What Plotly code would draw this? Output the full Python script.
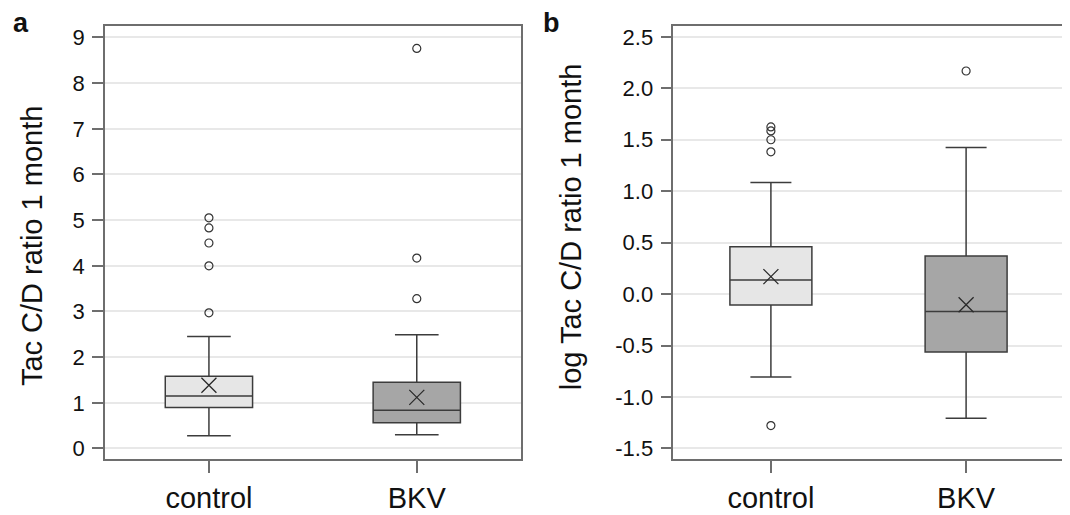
import plotly.graph_objects as go

# ---------------- data ----------------
categories = ["control", "BKV"]
box_fills = ["#e6e6e6", "#a6a6a6"]

# panel a: Tac C/D ratio 1 month
a_lower = [0.28, 0.30]
a_q1 = [0.90, 0.565]
a_median = [1.15, 0.84]
a_q3 = [1.58, 1.45]
a_upper = [2.45, 2.49]
a_mean = [1.385, 1.12]
a_out_control = [2.97, 4.0, 4.5, 4.83, 5.05]
a_out_bkv = [3.28, 4.17, 8.76]
a_ticks = [0, 1, 2, 3, 4, 5, 6, 7, 8, 9]
a_ticktext = ["0", "1", "2", "3", "4", "5", "6", "7", "8", "9"]

# panel b: log Tac C/D ratio 1 month
b_lower = [-0.805, -1.207]
b_q1 = [-0.106, -0.564]
b_median = [0.138, -0.168]
b_q3 = [0.46, 0.37]
b_upper = [1.084, 1.425]
b_mean = [0.17, -0.103]
b_out_control = [-1.278, 1.383, 1.50, 1.586, 1.625]
b_out_bkv = [2.168]
b_ticks = [-1.5, -1.0, -0.5, 0.0, 0.5, 1.0, 1.5, 2.0, 2.5]
b_ticktext = ["-1.5", "-1.0", "-0.5", "0.0", "0.5", "1.0", "1.5", "2.0", "2.5"]

FONT = "Liberation Sans, Arial, sans-serif"
# the page body has an 8px margin; draw the figure 8px smaller and offset
OFF = 8
W, H = 1070 - OFF, 515 - OFF
LINE = "#3c3c3c"
AXIS = "#6e6e6e"
GRID = "#e8e8e8"


def px(x):
    return (x - OFF) / W


def py(y):
    return 1 - (y - OFF) / H


fig = go.Figure()


def add_panel(xa, ya, lower, q1, med, q3, upper, mean, outs):
    for i, cat in enumerate(categories):
        fig.add_trace(go.Box(
            x=[cat], lowerfence=[lower[i]], q1=[q1[i]], median=[med[i]],
            q3=[q3[i]], upperfence=[upper[i]],
            width=0.42, whiskerwidth=0.5, fillcolor=box_fills[i],
            line=dict(color=LINE, width=1.5), boxpoints=False,
            xaxis=xa, yaxis=ya, showlegend=False, hoverinfo="skip"))
        fig.add_trace(go.Scatter(
            x=[cat] * len(outs[i]), y=outs[i], mode="markers",
            marker=dict(symbol="circle-open", size=8, color="#333333",
                        line=dict(width=1.2, color="#333333")),
            xaxis=xa, yaxis=ya, showlegend=False, hoverinfo="skip"))
        fig.add_trace(go.Scatter(
            x=[cat], y=[mean[i]], mode="markers",
            marker=dict(symbol="x-thin", size=15, color="#2a2a2a",
                        line=dict(width=1.3, color="#2a2a2a")),
            xaxis=xa, yaxis=ya, showlegend=False, hoverinfo="skip"))


add_panel("x", "y", a_lower, a_q1, a_median, a_q3, a_upper, a_mean,
          [a_out_control, a_out_bkv])
add_panel("x2", "y2", b_lower, b_q1, b_median, b_q3, b_upper, b_mean,
          [b_out_control, b_out_bkv])

ytop = py(24.5)
ybot = py(460.7)

xcommon = dict(type="category", categoryorder="array", categoryarray=categories,
               range=[-0.5, 1.5], showline=True, mirror=True, linecolor=AXIS,
               linewidth=1.5, ticks="outside", ticklen=12, tickcolor=AXIS,
               tickwidth=1.5, showgrid=False, zeroline=False,
               tickfont=dict(family=FONT, size=29, color="#111111"),
               fixedrange=True)
ycommon = dict(showline=True, mirror=True, linecolor=AXIS, linewidth=1.5,
               ticks="outside", ticklen=11, tickcolor=AXIS, tickwidth=1.5,
               showgrid=True, gridcolor=GRID, gridwidth=1.5, zeroline=False,
               tickfont=dict(family=FONT, size=22, color="#111111"),
               ticklabelstandoff=3, fixedrange=True)

fig.update_layout(
    width=W, height=H,
    margin=dict(l=0, r=0, t=0, b=0),
    paper_bgcolor="white", plot_bgcolor="white",
    boxmode="overlay",
    xaxis=dict(domain=[px(105), px(520.7)], anchor="y", **xcommon),
    yaxis=dict(domain=[ybot, ytop], anchor="x", range=[-0.233, 9.243],
               tickmode="array", tickvals=a_ticks, ticktext=a_ticktext, **ycommon),
    xaxis2=dict(domain=[px(673.3), px(1063.7)], anchor="y2", **xcommon),
    yaxis2=dict(domain=[ybot, ytop], anchor="x2", range=[-1.604, 2.602],
                tickmode="array", tickvals=b_ticks, ticktext=b_ticktext, **ycommon),
    annotations=[
        dict(text="Tac C/D ratio 1 month", textangle=-90, x=px(32), y=py(246),
             xref="paper", yref="paper", showarrow=False,
             xanchor="center", yanchor="middle",
             font=dict(family=FONT, size=29, color="#111111")),
        dict(text="log Tac C/D ratio 1 month", textangle=-90, x=px(571), y=py(227),
             xref="paper", yref="paper", showarrow=False,
             xanchor="center", yanchor="middle",
             font=dict(family=FONT, size=29, color="#111111")),
        dict(text="<b>a</b>", x=px(11), y=py(4), xref="paper", yref="paper",
             showarrow=False, xanchor="left", yanchor="top",
             font=dict(family=FONT, size=27, color="#111111")),
        dict(text="<b>b</b>", x=px(541), y=py(4), xref="paper", yref="paper",
             showarrow=False, xanchor="left", yanchor="top",
             font=dict(family=FONT, size=27, color="#111111")),
    ],
)

fig.write_html("out.html")
